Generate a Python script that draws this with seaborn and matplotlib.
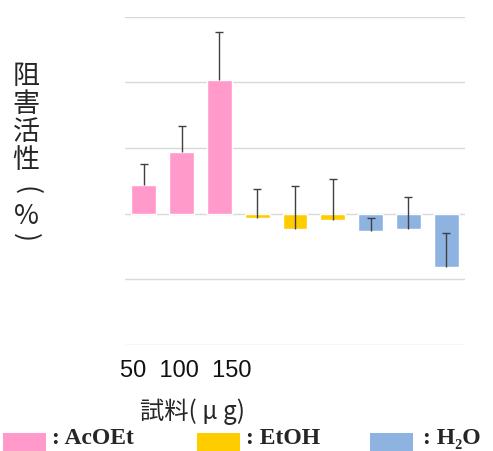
import numpy as np
import matplotlib.pyplot as plt
import pandas as pd
import seaborn as sns
from matplotlib.patches import Rectangle

# data (one grid step = 10 %)
solvents = ["AcOEt"] * 3 + ["EtOH"] * 3 + ["H2O"] * 3
doses = ["50", "100", "150"]
values = [4.3, 9.4, 20.4, -0.6, -2.3, -0.9, -2.6, -2.4, -8.2]
err_up = [3.3, 3.9, 7.2, 4.3, 6.5, 6.2, 2.0, 5.0, 5.3]
legend_keys = ["AcOEt", "EtOH", "H2O"]
legend_labels = [": AcOEt", ": EtOH", ": H\u2082O"]
colors = {"AcOEt": "#FF9ACB", "EtOH": "#FFCC00", "H2O": "#8FB3E0"}
ylab_chars = ["阻", "害", "活", "性", "(", "%", ")"]

df = pd.DataFrame({"pos": range(len(values)), "solvent": solvents, "value": values})
df["top"] = df["value"] + np.array(err_up)

sns.set_style("white")
plt.rcParams["font.family"] = ["Liberation Sans", "Noto Sans CJK JP", "DejaVu Sans"]

fig = plt.figure(figsize=(4.93, 4.51), dpi=100)
ax = fig.add_axes([0.2535, 0.235, 0.6897, 0.7284])

sns.barplot(data=df, x="pos", y="value", hue="solvent", palette=colors,
            dodge=False, width=0.66, legend=False, ax=ax, errorbar=None,
            saturation=1)
# one-sided (plus) error bars
ax.vlines(df["pos"], df["value"], df["top"], color="#404040", linewidth=1, zorder=3)
ax.plot(df["pos"], df["top"], ls="none", marker="_", markersize=6,
        markeredgewidth=1, color="#404040", zorder=3)

ax.set_xlim(-0.5, 8.5)
ax.set_ylim(-20, 30)
ax.set_yticks(np.arange(-20, 31, 10))
ax.yaxis.grid(True, color="#D9D9D9", linewidth=1)
ax.set_axisbelow(True)
ax.tick_params(left=False, bottom=False, labelleft=False, labelbottom=False)
ax.set_xlabel("")
ax.set_ylabel("")
sns.despine(ax=ax, left=True, bottom=True)

W, H = 493, 451

# dose labels (text box under first three bars)
fig.text(120 / W, 1 - 371 / H, "  ".join(doses), fontsize=17,
         va="center", ha="left", color="#111111")
fig.text(192 / W, 1 - 412 / H, "試料( μ g)", fontsize=17.5,
         va="center", ha="center", family=["Noto Sans CJK JP", "DejaVu Sans"])

# vertical y label, one character per line
ylab_y = [76, 105, 133, 160, 191, 216, 238]
for ch, yy in zip(ylab_chars, ylab_y):
    rot = -90 if ch in "()" else 0
    fig.text(26 / W, 1 - yy / H, ch, fontsize=19.5, va="center", ha="center",
             rotation=rot, family=["Noto Sans CJK JP", "DejaVu Sans"])

# legend strip along the bottom edge
rect_x = [3, 197, 370]
text_x = [52, 246, 423]
for key, lab, rx, tx in zip(legend_keys, legend_labels, rect_x, text_x):
    fig.patches.append(Rectangle((rx / W, 0), 43 / W, 18 / H, facecolor=colors[key],
                                 edgecolor="none", transform=fig.transFigure))
    fig.text(tx / W, 2 / H, lab, fontsize=17, fontweight="bold",
             va="bottom", ha="left", family=["Liberation Serif", "DejaVu Serif"])

fig.savefig("out.png", dpi=100)
